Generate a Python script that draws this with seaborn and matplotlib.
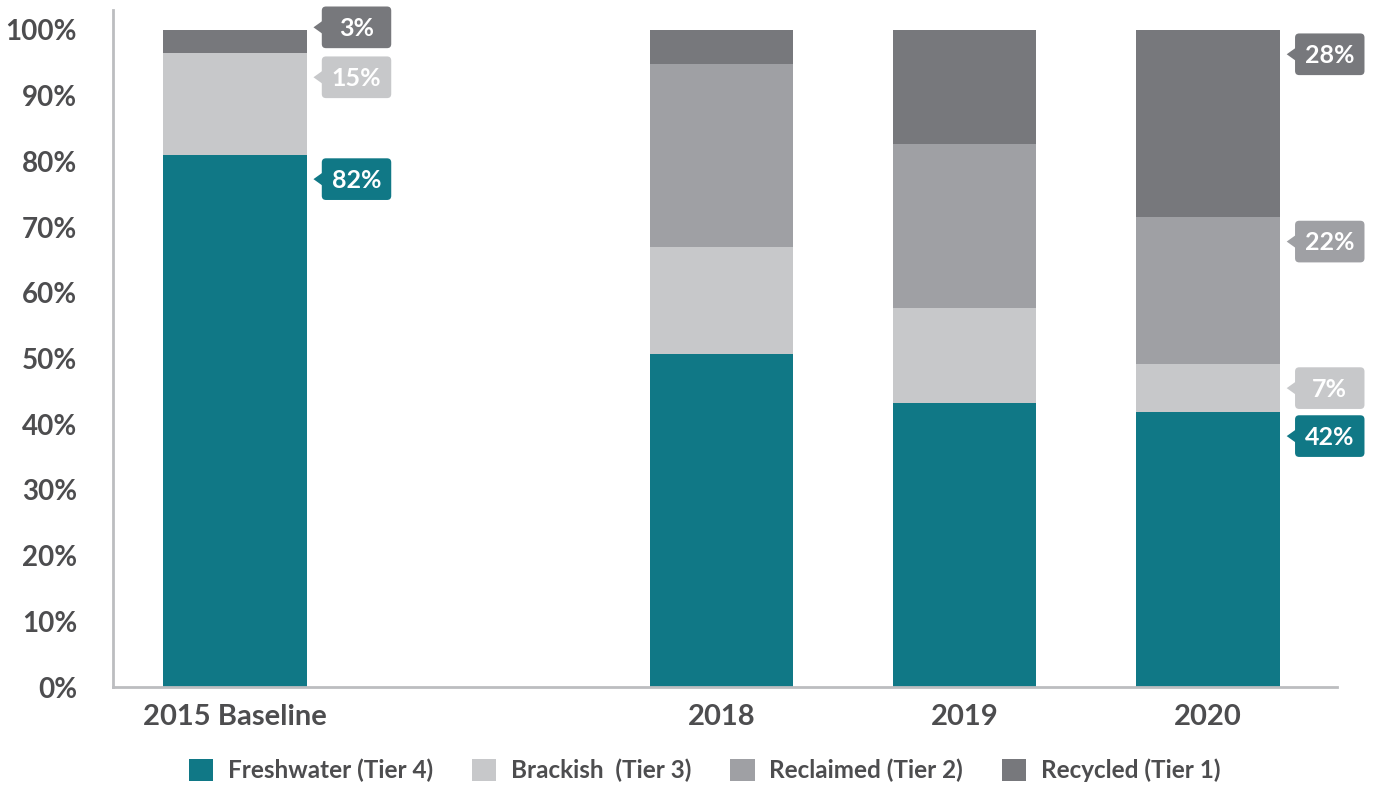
import pandas as pd
import matplotlib.pyplot as plt
import seaborn as sns
from matplotlib.patches import Patch, FancyBboxPatch, Polygon
from matplotlib.offsetbox import DrawingArea, AnnotationBbox
from matplotlib.text import Text

# Data (share of water use, %)
years = ["2015 Baseline", "2018", "2019", "2020"]
freshwater = [81.0, 50.7, 43.2, 41.9]
brackish = [15.5, 16.3, 14.5, 7.3]
reclaimed = [0.0, 27.8, 24.9, 22.3]
recycled = [3.5, 5.2, 17.4, 28.5]

series_names = ["Freshwater (Tier 4)", "Brackish  (Tier 3)", "Reclaimed (Tier 2)", "Recycled (Tier 1)"]
colors = ["#107886", "#C7C8CA", "#9FA0A4", "#77787C"]

# callout labels: (year, series index, text)
callouts = [
    ("2015 Baseline", 0, "82%"),
    ("2015 Baseline", 1, "15%"),
    ("2015 Baseline", 3, "3%"),
    ("2020", 0, "42%"),
    ("2020", 1, "7%"),
    ("2020", 2, "22%"),
    ("2020", 3, "28%"),
]

order = ["2015 Baseline", " ", "2018", "2019", "2020"]
text_color = "#4D4D4F"
spine_color = "#BCBDC0"
bar_width = 0.59

df = pd.DataFrame({
    "year": years,
    "freshwater": freshwater,
    "brackish": brackish,
    "reclaimed": reclaimed,
    "recycled": recycled,
})
cols = ["freshwater", "brackish", "reclaimed", "recycled"]
cum = df[cols].cumsum(axis=1)
cum["year"] = df["year"]

sns.set_style("white")
plt.rcParams["font.family"] = ["Lato", "DejaVu Sans"]
plt.rcParams["font.weight"] = "bold"

fig, ax = plt.subplots(figsize=(13.79, 7.88), dpi=100)
fig.subplots_adjust(left=0.082, right=0.9695, bottom=0.128, top=0.987)

# stacked bars: draw cumulative totals from the top layer down
for col, c in reversed(list(zip(cols, colors))):
    sns.barplot(data=cum, x="year", y=col, order=order, color=c, saturation=1,
                width=bar_width, errorbar=None, linewidth=0, edgecolor="none", ax=ax)

ax.set_xlim(-0.5, 4.53)
ax.set_ylim(0, 103)
ax.set_yticks(range(0, 101, 10))
ax.set_yticklabels([f"{v}%" for v in range(0, 101, 10)])
ax.set_xlabel("")
ax.set_ylabel("")
ax.tick_params(axis="y", length=0, pad=26, labelsize=20, labelcolor=text_color)
ax.tick_params(axis="x", length=0, pad=12, labelsize=21, labelcolor=text_color)

for s in ["top", "right"]:
    ax.spines[s].set_visible(False)
for s in ["left", "bottom"]:
    ax.spines[s].set_color(spine_color)
    ax.spines[s].set_linewidth(2)

# callout boxes with a small pointer on the left
box_w, box_h, tip = 50, 30, 6
for year, si, txt in callouts:
    xi = order.index(year)
    row = years.index(year)
    top = cum.loc[row, cols[si]]
    y = top - 3.7
    if year == "2015 Baseline" and si == 3:
        y = top + 0.4
    da = DrawingArea(box_w + tip, box_h, 0, 0, clip=False)
    da.add_artist(Polygon([[0, box_h / 2], [tip + 1, box_h / 2 + 5], [tip + 1, box_h / 2 - 5]],
                          closed=True, fc=colors[si], ec="none"))
    da.add_artist(FancyBboxPatch((tip, 0), box_w, box_h,
                                 boxstyle="round,pad=0,rounding_size=3",
                                 fc=colors[si], ec="none"))
    da.add_artist(Text(tip + box_w / 2, box_h / 2 - 1, txt, color="white", fontsize=18,
                       fontweight="bold", ha="center", va="center"))
    ab = AnnotationBbox(da, (xi + bar_width / 2, y), xybox=(5, 0),
                        boxcoords="offset points", box_alignment=(0, 0.5),
                        frameon=False, pad=0)
    ax.add_artist(ab)

handles = [Patch(facecolor=c, edgecolor="none") for c in colors]
leg = fig.legend(handles, series_names, loc="center", bbox_to_anchor=(0.511, 0.022),
                 ncol=4, frameon=False, fontsize=17.5, handlelength=1.0, handleheight=1.0,
                 handletextpad=0.6, columnspacing=1.6)
for t in leg.get_texts():
    t.set_color(text_color)

plt.savefig("out.png", dpi=100)
